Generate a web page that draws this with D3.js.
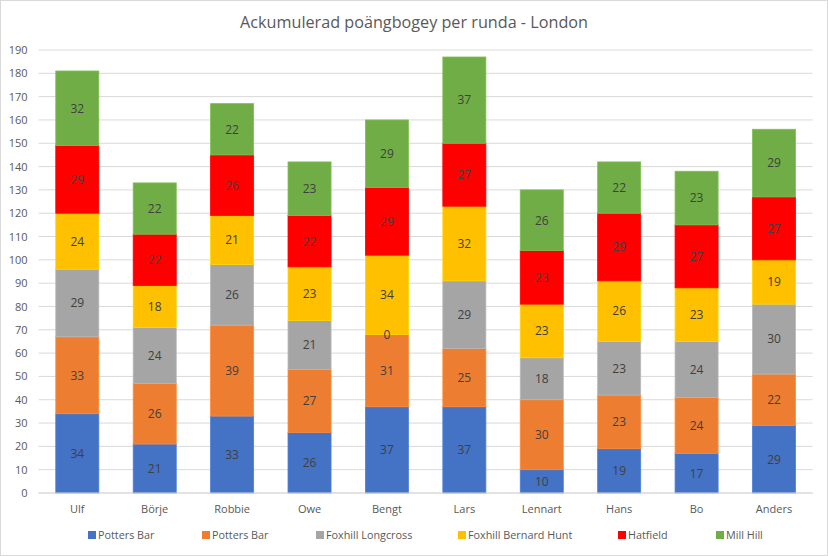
<!DOCTYPE html>
<html><head><meta charset="utf-8">
<script src="https://cdn.jsdelivr.net/npm/d3@7"></script>
<style>body{margin:0;background:#fff;} svg{display:block;}</style>
</head><body>
<svg id="c" width="828" height="556"></svg>
<script>
const categories = ["Ulf","Börje","Robbie","Owe","Bengt","Lars","Lennart","Hans","Bo","Anders"];
const seriesNames = ["Potters Bar","Potters Bar","Foxhill Longcross","Foxhill Bernard Hunt","Hatfield","Mill Hill"];
const pottersBar1 = [34,21,33,26,37,37,10,19,17,29];
const pottersBar2 = [33,26,39,27,31,25,30,23,24,22];
const foxhillLongcross = [29,24,26,21,0,29,18,23,24,30];
const foxhillBernardHunt = [24,18,21,23,34,32,23,26,23,19];
const hatfield = [29,22,26,22,29,27,23,29,27,27];
const millHill = [32,22,22,23,29,37,26,22,23,29];
const yTicks = [0,10,20,30,40,50,60,70,80,90,100,110,120,130,140,150,160,170,180,190];
const colors = ["#4472C4","#ED7D31","#A5A5A5","#FFC000","#FF0000","#70AD47"];
const title = "Ackumulerad poängbogey per runda - London";

const seriesValues = [pottersBar1,pottersBar2,foxhillLongcross,foxhillBernardHunt,hatfield,millHill];
const rows = categories.map((c,i)=>{const r={cat:c}; seriesValues.forEach((s,j)=>r["s"+j]=s[i]); return r;});
const keys = seriesNames.map((_,j)=>"s"+j);
const stacked = d3.stack().keys(keys)(rows);

const svg = d3.select("#c");
const font = "'Open Sans', sans-serif";
svg.append("rect").attr("x",0.5).attr("y",0.5).attr("width",827).attr("height",555)
  .attr("fill","#fff").attr("stroke","#d9d9d9");

const L=38.6, R=812.7, T=50, B=493;
const x = d3.scaleBand().domain(categories).range([L,R]).paddingInner(0.444).paddingOuter(0.222);
const y = d3.scaleLinear().domain([0,190]).range([B,T]);

// gridlines
svg.append("g").selectAll("line").data(yTicks).join("line")
  .attr("x1",L).attr("x2",R).attr("y1",d=>y(d)).attr("y2",d=>y(d))
  .attr("stroke","#d9d9d9").attr("stroke-width",1);

// y axis
const yAx = svg.append("g").attr("transform",`translate(${L},0)`)
  .call(d3.axisLeft(y).tickValues(yTicks).tickSize(0).tickPadding(11));
yAx.select(".domain").remove();
yAx.selectAll("text").attr("fill","#595959").attr("font-size",11).attr("font-family",font);

// bars
const g = svg.append("g");
stacked.forEach((s,j)=>{
  g.append("g").selectAll("rect").data(s).join("rect")
    .attr("x",d=>x(d.data.cat)).attr("width",x.bandwidth())
    .attr("y",d=>y(d[1])).attr("height",d=>y(d[0])-y(d[1]))
    .attr("fill",colors[j])
    .attr("stroke",d3.color(colors[j]).brighter(0.3)).attr("stroke-width",0.8);
});
stacked.forEach((s,j)=>{
  g.append("g").selectAll("text").data(s).join("text")
    .attr("x",d=>x(d.data.cat)+x.bandwidth()/2)
    .attr("y",d=>(y(d[0])+y(d[1]))/2)
    .attr("dy","0.36em").attr("text-anchor","middle")
    .attr("fill","#404040").attr("font-size",12).attr("font-family",font)
    .text(d=>d[1]-d[0]);
});

// baseline
svg.append("line").attr("x1",L).attr("x2",R).attr("y1",B).attr("y2",B).attr("stroke","#d9d9d9");

// x axis
const xAx = svg.append("g").attr("transform",`translate(0,${B})`)
  .call(d3.axisBottom(x).tickSize(0).tickPadding(12));
xAx.select(".domain").remove();
xAx.selectAll("text").attr("fill","#595959").attr("font-size",11).attr("font-family",font);

// title
svg.append("text").attr("x",414).attr("y",28).attr("text-anchor","middle")
  .attr("fill","#595959").attr("font-size",16.2).attr("font-family",font).text(title);

// legend
const swatchX = [88,202,316,458,618,716];
const lg = svg.append("g");
seriesNames.forEach((n,j)=>{
  lg.append("rect").attr("x",swatchX[j]).attr("y",531).attr("width",8).attr("height",8).attr("fill",colors[j]);
  lg.append("text").attr("x",swatchX[j]+10).attr("y",535).attr("dy","0.35em")
    .attr("fill","#595959").attr("font-size",10.8).attr("font-family",font).text(n);
});
</script>
</body></html>
